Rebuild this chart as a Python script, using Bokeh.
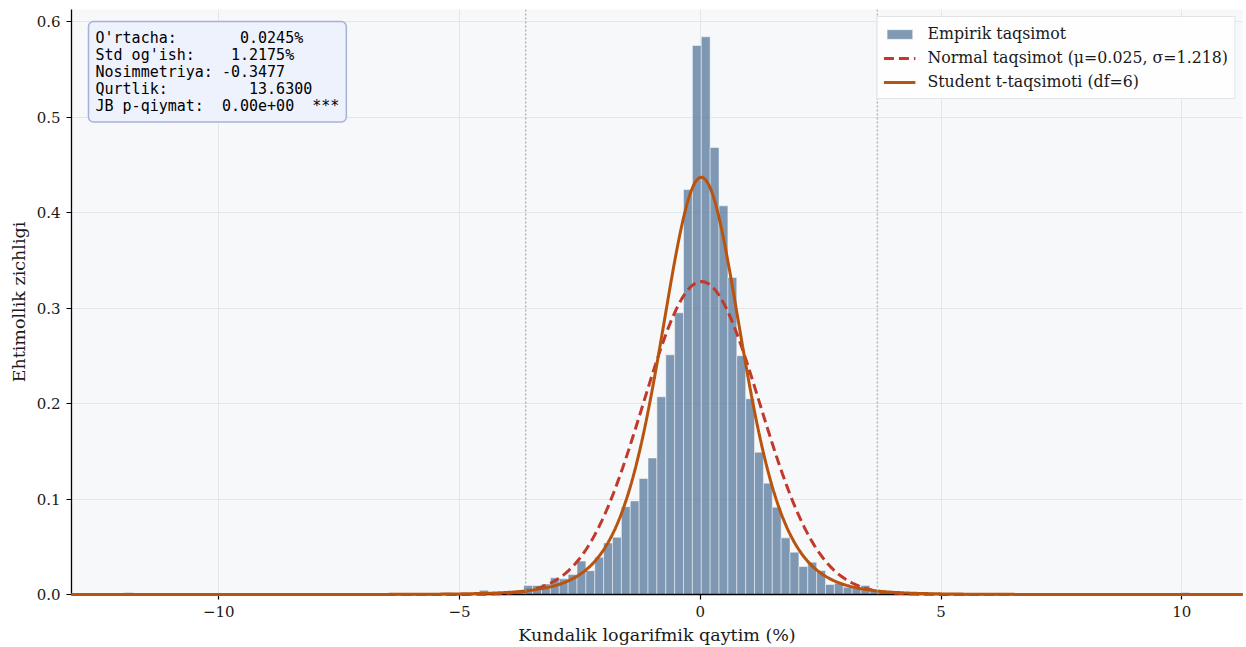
import math
import numpy as np
from bokeh.plotting import figure
from bokeh.models import (Span, Label, Legend, LegendItem, CustomJSTickFormatter,
                          PrintfTickFormatter, FixedTicker, Range1d, ColumnDataSource)
from bokeh.embed import file_html
from bokeh.resources import INLINE

# ---------------- data ----------------
# histogram (density), 120 equal bins from the sample minimum
hist_first_edge = -11.962
hist_bin_width = 0.18433
hist_bin_index = [0, 36, 40, 43, 44,
                  45, 46, 47, 48, 49, 50, 51, 52, 53, 54,
                  55, 56, 57, 58, 59, 60, 61, 62, 63, 64,
                  65, 66, 67, 68, 69, 70, 71, 72, 73, 74,
                  75, 76, 77, 78, 79, 80, 81, 82, 83, 84,
                  85, 86, 119]
hist_density = [0.0022, 0.0022, 0.0044, 0.0022, 0.0022,
                0.0094, 0.0094, 0.0110, 0.0175, 0.0164, 0.0210, 0.0350, 0.0250, 0.0390, 0.0540,
                0.0600, 0.0920, 0.0980, 0.1215, 0.1430, 0.2070, 0.2510, 0.2950, 0.4240, 0.5750,
                0.5840, 0.4680, 0.4070, 0.3320, 0.2500, 0.2050, 0.1490, 0.1166, 0.0914, 0.0593,
                0.0443, 0.0293, 0.0338, 0.0251, 0.0105, 0.0119, 0.0077, 0.0070, 0.0094, 0.0044,
                0.0022, 0.0022, 0.0022]

# sample statistics / fitted parameters
mean_pct = 0.0245
std_pct = 1.2175
skewness = -0.3477
kurtosis = 13.6300
jb_p = 0.0
t_df = 6
t_loc = 0.02
t_scale = 0.876

x_limits = [-13.06, 11.26]
y_limits = [0.0, 0.6126]
x_ticks = [-10, -5, 0, 5, 10]
y_ticks = [0.0, 0.1, 0.2, 0.3, 0.4, 0.5, 0.6]

legend_labels = ["Empirik taqsimot",
                 "Normal taqsimot (\u03bc=0.025, \u03c3=1.218)",
                 "Student t-taqsimoti (df=6)"]
x_label = "Kundalik logarifmik qaytim (%)"
y_label = "Ehtimollik zichligi"

stats_lines = [
    "O'rtacha:       0.0245%",
    "Std og'ish:    1.2175%",
    "Nosimmetriya: -0.3477",
    "Qurtlik:         13.6300",
    "JB p-qiymat:  0.00e+00  ***",
]

# ---------------- derived ----------------
left = [hist_first_edge + i * hist_bin_width for i in hist_bin_index]
right = [l + hist_bin_width for l in left]
hist_src = ColumnDataSource(dict(left=left, right=right, top=hist_density,
                                 bottom=[0] * len(left)))

xs = np.linspace(x_limits[0], x_limits[1], 800)
norm_pdf = np.exp(-0.5 * ((xs - mean_pct) / std_pct) ** 2) / (std_pct * math.sqrt(2 * math.pi))
c = math.exp(math.lgamma((t_df + 1) / 2) - math.lgamma(t_df / 2)) / math.sqrt(t_df * math.pi)
t_pdf = c / t_scale * (1 + ((xs - t_loc) / t_scale) ** 2 / t_df) ** (-(t_df + 1) / 2)

SERIF = "DejaVu Serif"

p = figure(width=1246, height=647, output_backend="svg", toolbar_location=None,
           x_range=Range1d(*x_limits), y_range=Range1d(*y_limits),
           min_border_left=71, min_border_right=4, min_border_top=9, min_border_bottom=53)
p.background_fill_color = "#f7f8fa"
p.border_fill_color = "white"
p.outline_line_color = None

p.xgrid.grid_line_color = "#e4e6ea"
p.ygrid.grid_line_color = "#e4e6ea"
p.xgrid.ticker = FixedTicker(ticks=x_ticks)
p.ygrid.ticker = FixedTicker(ticks=y_ticks)

for ax in (p.xaxis[0], p.yaxis[0]):
    ax.axis_line_color = "black"
    ax.axis_line_width = 1.3
    ax.major_tick_line_color = "black"
    ax.major_tick_line_width = 1.2
    ax.major_tick_out = 5
    ax.major_tick_in = 0
    ax.minor_tick_line_color = None
    ax.major_label_text_font = SERIF
    ax.major_label_text_font_size = "15px"
    ax.major_label_text_color = "#1a1a1a"
    ax.axis_label_text_font = SERIF
    ax.axis_label_text_font_size = "17.5px"
    ax.axis_label_text_font_style = "normal"
    ax.axis_label_text_color = "#1a1a1a"

p.xaxis.ticker = FixedTicker(ticks=x_ticks)
p.yaxis.ticker = FixedTicker(ticks=y_ticks)
p.xaxis.formatter = CustomJSTickFormatter(code="return tick < 0 ? '\u2212' + Math.abs(tick) : String(tick);")
p.yaxis.formatter = PrintfTickFormatter(format="%.1f")
p.xaxis.axis_label = x_label
p.yaxis.axis_label = y_label
p.xaxis.axis_label_standoff = 5
p.yaxis.axis_label_standoff = 5
p.xaxis.major_label_standoff = 6
p.yaxis.major_label_standoff = 6

hist_r = p.quad(left="left", right="right", top="top", bottom="bottom", source=hist_src,
                fill_color="#4a6f94", fill_alpha=0.7, line_color="white", line_alpha=0.6,
                line_width=0.8)

for xv in (mean_pct - 3 * std_pct, mean_pct + 3 * std_pct):
    p.add_layout(Span(location=xv, dimension="height", line_color="#a0a0a0",
                      line_dash="2 2", line_width=1.4, line_alpha=0.8))

norm_r = p.line(xs, norm_pdf, line_color="#c0392b", line_width=3, line_dash="10 5",
                level="annotation")
t_r = p.line(xs, t_pdf, line_color="#b9540f", line_width=3, level="annotation")

legend = Legend(items=[LegendItem(label=legend_labels[0], renderers=[hist_r]),
                       LegendItem(label=legend_labels[1], renderers=[norm_r]),
                       LegendItem(label=legend_labels[2], renderers=[t_r])],
                location="top_right")
legend.margin = 7
legend.padding = 6
legend.spacing = 3
legend.label_height = 21
legend.glyph_height = 12
legend.glyph_width = 32
legend.label_standoff = 12
legend.label_text_font = SERIF
legend.label_text_font_size = "15.8px"
legend.label_text_color = "#1a1a1a"
legend.border_line_color = "#cccccc"
legend.border_line_width = 1
legend.background_fill_color = "white"
legend.background_fill_alpha = 0.85
p.add_layout(legend)

NBSP = "\u00a0"
stats = Label(x=17, y=573, x_units="screen", y_units="screen",
              text="\n".join(s.replace(" ", NBSP) for s in stats_lines),
              text_font="DejaVu Sans Mono",
              text_font_size="15px", text_baseline="top", text_align="left",
              text_color="black", text_line_height=0.95,
              background_fill_color="#eef2fd", background_fill_alpha=1.0,
              border_line_color="#a7b1d6", border_line_width=1.5,
              padding=7, border_radius=5)
p.add_layout(stats)

open("out.html", "w").write(file_html(p, INLINE))
